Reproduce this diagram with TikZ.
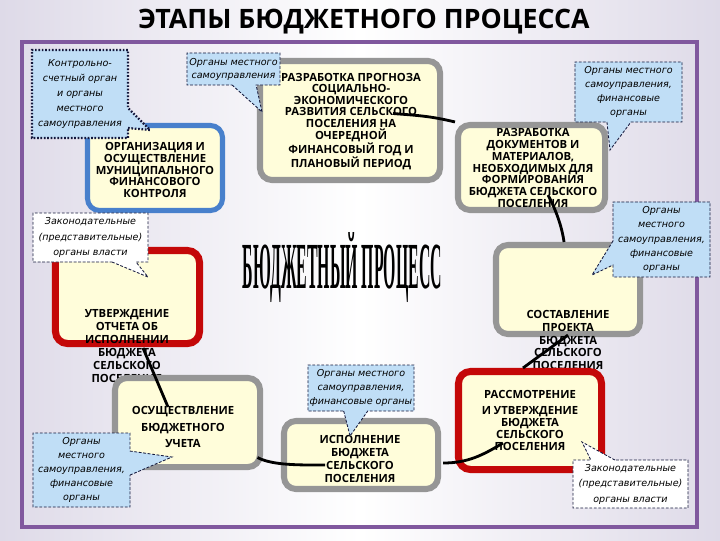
\documentclass[tikz,border=0pt]{standalone}
\usepackage{fontspec}
\setmainfont{Open Sans}
\newfontfamily\notefont{DejaVu Sans}
\usepackage{graphicx}
\usetikzlibrary{shapes.callouts,calc}
\definecolor{framepurple}{RGB}{128,88,158}
\definecolor{stagefill}{RGB}{255,253,218}
\definecolor{stagegray}{RGB}{150,150,150}
\definecolor{stageblue}{RGB}{72,128,204}
\definecolor{stagered}{RGB}{196,8,8}
\definecolor{noteblue}{RGB}{192,222,246}
\definecolor{notenavy}{RGB}{20,24,60}
\definecolor{bgside}{RGB}{222,218,232}

\tikzset{
  stage/.style={draw=stagegray, line width=4.3pt, rounded corners=0.3cm, fill=stagefill, inner sep=0pt},
  stagetext/.style={font=\fontsize{8}{#1}\selectfont\bfseries, align=center},
  stagetext/.default=8.5pt,
  note/.style={rectangle callout, draw=notenavy, fill=noteblue, line width=0.6pt,
    dash pattern=on 2pt off 1.2pt, callout pointer width=0.6cm, inner sep=1pt,
    font=\notefont\fontsize{6.8}{10}\selectfont\itshape, align=center},
  link/.style={line width=2pt, black},
}

\begin{document}
\begin{tikzpicture}[x=0.025cm, y=-0.025cm]
% background and frame
\fill[left color=bgside, right color=bgside, middle color=white] (0,0) rectangle (720,540);
\draw[framepurple, line width=3pt] (22,42) rectangle (697,527);

\node[font=\fontsize{19}{20}\selectfont\bfseries] (title) at (364,22) {ЭТАПЫ БЮДЖЕТНОГО ПРОЦЕССА};

% stages of the cycle
\node[stage, draw=stageblue, line width=3.6pt, minimum width=3.375cm, minimum height=2.125cm] (control) at (155,168) {};
\node[stagetext=8.4pt] (controltxt) at (155,170) {ОРГАНИЗАЦИЯ И\\ОСУЩЕСТВЛЕНИЕ\\МУНИЦИПАЛЬНОГО\\ФИНАНСОВОГО\\КОНТРОЛЯ};

\node[stage, minimum width=4.5cm, minimum height=2.975cm] (prog) at (350,120.5) {};
\node[stagetext=8.25pt] (progtxt) at (351,121.5) {РАЗРАБОТКА ПРОГНОЗА\\СОЦИАЛЬНО-\\ЭКОНОМИЧЕСКОГО\\РАЗВИТИЯ СЕЛЬСКОГО\\ПОСЕЛЕНИЯ НА\\ОЧЕРЕДНОЙ\\ФИНАНСОВЫЙ ГОД И\\ПЛАНОВЫЙ ПЕРИОД};

\node[stage, minimum width=3.675cm, minimum height=2.125cm] (docs) at (531.5,167.5) {};
\node[stagetext=8.5pt] (docstxt) at (533,168) {РАЗРАБОТКА\\ДОКУМЕНТОВ И\\МАТЕРИАЛОВ,\\НЕОБХОДИМЫХ ДЛЯ\\ФОРМИРОВАНИЯ\\БЮДЖЕТА СЕЛЬСКОГО\\ПОСЕЛЕНИЯ};

\node[stage, minimum width=3.6cm, minimum height=2.225cm] (draft) at (568,289.5) {};
\node[stagetext=9.2pt] (drafttxt) at (568,340) {СОСТАВЛЕНИЕ\\ПРОЕКТА\\БЮДЖЕТА\\СЕЛЬСКОГО\\ПОСЕЛЕНИЯ};

\node[stage, draw=stagered, line width=5pt, minimum width=3.575cm, minimum height=2.45cm] (review) at (530,420.5) {};
\node[stagetext=8.5pt] (reviewtxt) at (530,420) {РАССМОТРЕНИЕ\\[3pt]И УТВЕРЖДЕНИЕ\\БЮДЖЕТА\\СЕЛЬСКОГО\\ПОСЕЛЕНИЯ};

\node[stage, draw=stagered, line width=5pt, minimum width=3.6cm, minimum height=2.325cm] (report) at (127.5,297) {};
\node[stagetext=9.2pt] (reporttxt) at (127,346) {УТВЕРЖДЕНИЕ\\ОТЧЕТА ОБ\\ИСПОЛНЕНИИ\\БЮДЖЕТА\\СЕЛЬСКОГО\\ПОСЕЛЕНИЯ};

\node[stage, minimum width=3.625cm, minimum height=2.225cm] (acct) at (187.5,422.5) {};
\node[stagetext=11.7pt] (accttxt) at (183,427) {ОСУЩЕСТВЛЕНИЕ\\БЮДЖЕТНОГО\\УЧЕТА};

\node[stage, minimum width=3.85cm, minimum height=1.7cm] (exec) at (361,455) {};
\node[stagetext=9.2pt] (exectxt) at (360,459) {ИСПОЛНЕНИЕ\\БЮДЖЕТА\\СЕЛЬСКОГО\\ПОСЕЛЕНИЯ};

% centre title
\node[anchor=base] (core) at (342.5,288) {\resizebox{4.975cm}{1.4cm}{\fontspec{Liberation Serif}\bfseries БЮДЖЕТНЫЙ ПРОЦЕСС}};

% links
\draw[link] ($(prog.center)+(43,-7)$) .. controls +(25,2) and +(-25,-6) .. (docs.north west);
\draw[link] ($(docs.center)+(16.5,27.5)$) .. controls +(8,15) and +(-2,-15) .. ($(draft.north)+(-4,0)$);
\draw[link] ($(draft.south)+(0,-2)$) -- ($(review.north)+(-7,0)$);
\draw[link] ($(review.center)+(-27,22.5)$) .. controls +(-20,12) and +(25,0) .. ($(exec.east)+(2,8)$);
\draw[link] ($(acct.center)+(70,35)$) .. controls +(15,8) and +(-25,0) .. ($(exec.center)+(-36,10)$);
\draw[link] ($(acct.center)+(-19.5,-15.5)$) -- ($(report.center)+(15.5,51)$);

% who is responsible
\node[note, draw=notenavy, line width=1.6pt, dash pattern=on 1.2pt off 1.2pt, callout pointer width=0.5cm,
  minimum width=2.4cm, minimum height=2.2cm, font=\notefont\fontsize{6.8}{10.6}\selectfont\itshape,
  callout absolute pointer={(150,130)}] (noteA) at (80,94) {Контрольно-\\счетный орган\\и органы\\местного\\самоуправления};
\node[note, minimum width=2.325cm, minimum height=0.8cm, font=\notefont\fontsize{6.8}{9.3}\selectfont\itshape,
  callout absolute pointer={(262,112)}] (noteB) at (233.5,69) {Органы местного\\самоуправления};
\node[note, minimum width=2.675cm, minimum height=1.5cm,
  callout absolute pointer={(610,150)}] (noteC) at (628.5,92) {Органы местного\\самоуправления,\\финансовые\\органы};
\node[note, minimum width=2.425cm, minimum height=1.875cm,
  callout absolute pointer={(592,275)}] (noteD) at (661.5,239.5) {Органы\\местного\\самоуправления,\\финансовые\\органы};
\node[note, fill=white, minimum width=2.875cm, minimum height=1.225cm, font=\notefont\fontsize{6.8}{11}\selectfont\itshape,
  callout absolute pointer={(148,277)}] (noteE) at (90.5,237.5) {Законодательные\\(представительные)\\органы власти};
\node[note, minimum width=2.425cm, minimum height=1.85cm,
  callout absolute pointer={(172,457)}] (noteF) at (81.5,470) {Органы\\местного\\самоуправления,\\финансовые\\органы};
\node[note, minimum width=2.65cm, minimum height=1.15cm,
  callout absolute pointer={(350,436)}] (noteG) at (361,388) {Органы местного\\самоуправления,\\финансовые органы};
\node[note, fill=white, minimum width=2.875cm, minimum height=1.2cm, font=\notefont\fontsize{6.8}{11}\selectfont\itshape,
  callout absolute pointer={(582,442)}] (noteH) at (630.5,484) {Законодательные\\(представительные)\\органы власти};
\end{tikzpicture}
\end{document}
